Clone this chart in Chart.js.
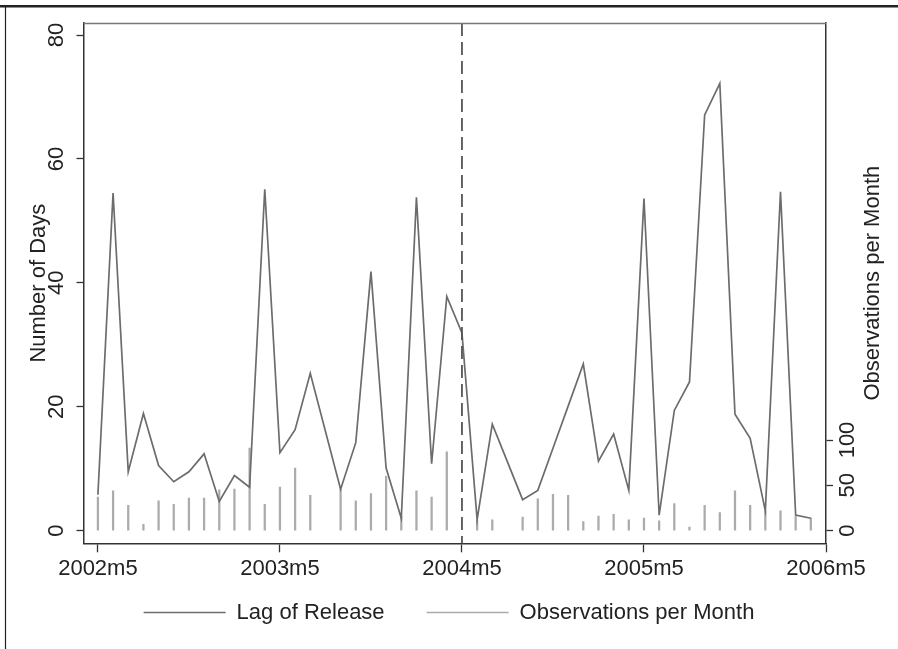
<!DOCTYPE html>
<html><head><meta charset="utf-8">
<script src="https://cdn.jsdelivr.net/npm/chart.js@4.4.1/dist/chart.umd.min.js"></script>
<style>html,body{margin:0;padding:0;background:#fff;} #wrap{width:898px;height:649px;position:relative;}</style>
</head><body><div id="wrap"><canvas id="c" width="898" height="649"></canvas></div>
<script>
const months = ['2002m5','2002m6','2002m7','2002m8','2002m9','2002m10','2002m11','2002m12',
  '2003m1','2003m2','2003m3','2003m4','2003m5','2003m6','2003m7','2003m8','2003m9','2003m10','2003m11','2003m12',
  '2004m1','2004m2','2004m3','2004m4','2004m5','2004m6','2004m7','2004m8','2004m9','2004m10','2004m11','2004m12',
  '2005m1','2005m2','2005m3','2005m4','2005m5','2005m6','2005m7','2005m8','2005m9','2005m10','2005m11','2005m12',
  '2006m1','2006m2','2006m3','2006m4'];
const lagOfRelease = [5.8,54.5,9.5,18.9,10.5,7.9,9.5,12.4,4.7,8.9,7.0,55.1,
  12.6,16.3,25.4,null,6.7,14.2,41.8,10.1,2.0,53.8,10.8,37.8,
  31.9,1.8,17.2,null,5.0,6.5,13.3,20.1,26.9,11.2,15.6,6.5,
  53.6,2.5,19.4,24.0,67.1,72.2,18.8,14.9,3.2,54.7,2.5,2.0];
const obsPerMonth = [37,44,28,7,33,29,36,36,45,46,91,29,
  48,69,39,null,46,33,41,60,16,44,37,87,
  null,12,12,null,15,35,40,39,10,16,18,12,
  14,11,30,4,28,20,44,28,22,22,16,14];
const xTickIndex = [0,12,24,36,48];
const xTickLabels = ['2002m5','2003m5','2004m5','2005m5','2006m5'];
const leftTicks = [0,20,40,60,80];
const rightTicks = [0,50,100];
const breakIndex = 24; // dashed reference line at 2004m5
const seriesNames = ['Lag of Release','Observations per Month'];
const axisTitles = ['Number of Days','Observations per Month'];

const FONT = '"Liberation Sans", Arial, Helvetica, sans-serif';
const FS = 22;
Chart.defaults.font.family = FONT;
Chart.defaults.font.size = FS;
Chart.defaults.color = '#222';

const lineColor = '#6c6c6c';
const spikeColor = '#ababab';

const lagPoints = lagOfRelease.map((v,i)=>({x:i, y:v}));
const obsPoints = obsPerMonth.map((v,i)=>({x:i, y:v}));

const decor = {
  id:'decor',
  beforeDraw(chart){
    const c = chart.ctx;
    c.save();
    c.fillStyle = '#fff';
    c.fillRect(0,0,chart.width,chart.height);
    c.strokeStyle = '#222';
    c.lineWidth = 2.4;
    c.beginPath(); c.moveTo(0,6.2); c.lineTo(chart.width,6.2); c.stroke();
    c.lineWidth = 1.2;
    c.beginPath(); c.moveTo(5.5,6); c.lineTo(5.5,chart.height); c.stroke();
    c.restore();
  },
  afterDatasetsDraw(chart){
    const c = chart.ctx, a = chart.chartArea;
    const x = chart.scales.x.getPixelForValue(breakIndex);
    c.save();
    c.strokeStyle = '#555';
    c.lineWidth = 1.8;
    c.setLineDash([13,6]);
    c.beginPath(); c.moveTo(x,a.top); c.lineTo(x,a.bottom); c.stroke();
    c.restore();
  },
  afterDraw(chart){
    const c = chart.ctx, a = chart.chartArea;
    c.save();
    // top border of plot region
    c.strokeStyle = '#777';
    c.lineWidth = 1.3;
    c.beginPath(); c.moveTo(a.left, a.top+0.5); c.lineTo(a.right, a.top+0.5); c.stroke();
    c.fillStyle = '#222';
    c.font = FS + 'px ' + FONT;
    // x tick labels
    c.textAlign = 'center';
    c.textBaseline = 'alphabetic';
    const xs = chart.scales.x;
    xTickIndex.forEach((v,k)=>{ c.fillText(xTickLabels[k], xs.getPixelForValue(v), a.bottom + 31.5); });
    // rotated y tick labels
    const yl = chart.scales.y, yr = chart.scales.y2;
    leftTicks.forEach(v=>{
      c.save(); c.translate(a.left-20.5, yl.getPixelForValue(v)); c.rotate(-Math.PI/2);
      c.fillText(String(v),0,0); c.restore();
    });
    rightTicks.forEach(v=>{
      c.save(); c.translate(a.right+28, yr.getPixelForValue(v)); c.rotate(-Math.PI/2);
      c.fillText(String(v),0,0); c.restore();
    });
    const midY = (a.top+a.bottom)/2;
    c.save(); c.translate(a.left-39, midY); c.rotate(-Math.PI/2); c.fillText(axisTitles[0],0,0); c.restore();
    c.save(); c.translate(a.right+52.5, midY); c.rotate(-Math.PI/2); c.fillText(axisTitles[1],0,0); c.restore();
    c.restore();
  }
};

new Chart(document.getElementById('c'), {
  data:{
    datasets:[
      {type:'line', label:seriesNames[0], data:lagPoints, yAxisID:'y', order:0,
       borderColor:lineColor, backgroundColor:lineColor, borderWidth:1.7, pointRadius:0,
       pointHoverRadius:0, tension:0, spanGaps:true, fill:false},
      {type:'bar', label:seriesNames[1], data:obsPoints, yAxisID:'y2', order:1,
       backgroundColor:spikeColor, borderWidth:0, barThickness:1.6}
    ]
  },
  options:{
    responsive:false, animation:false,
    layout:{padding:{left:0,right:0,top:23,bottom:15.5}},
    plugins:{
      tooltip:{enabled:false},
      legend:{
        position:'bottom',
        labels:{
          usePointStyle:true, pointStyle:'line', pointStyleWidth:82, padding:42,
          font:{size:FS, family:FONT}, color:'#222',
          generateLabels(chart){
            const items = Chart.defaults.plugins.legend.labels.generateLabels(chart);
            return items.map((it)=>{
              const col = it.datasetIndex===0 ? lineColor : spikeColor;
              return Object.assign(it,{pointStyle:'line', strokeStyle:col, fillStyle:col, lineWidth:1.7});
            });
          }
        }
      }
    },
    scales:{
      x:{type:'linear', position:'bottom', min:-0.95, max:48, offset:false,
        afterBuildTicks(s){ s.ticks = xTickIndex.map(v=>({value:v})); },
        afterFit(s){ s.height = 16.2; },
        ticks:{display:false},
        grid:{drawOnChartArea:false, drawTicks:true, tickLength:9, tickColor:'#333', tickWidth:1.3, offset:false},
        border:{display:true, color:'#333', width:1.5}
      },
      y:{type:'linear', position:'left', min:-2.04, max:81.94,
        afterBuildTicks(s){ s.ticks = leftTicks.map(v=>({value:v})); },
        afterFit(s){ s.width = 83.5; },
        ticks:{display:false},
        grid:{drawOnChartArea:false, drawTicks:true, tickLength:7, tickColor:'#333', tickWidth:1.3},
        border:{display:true, color:'#333', width:1.5}
      },
      y2:{type:'linear', position:'right', min:-13.9, max:559.8,
        afterBuildTicks(s){ s.ticks = rightTicks.map(v=>({value:v})); },
        afterFit(s){ s.width = 72; },
        ticks:{display:false},
        grid:{drawOnChartArea:false, drawTicks:true, tickLength:7, tickColor:'#333', tickWidth:1.3},
        border:{display:true, color:'#333', width:1.5}
      }
    }
  },
  plugins:[decor]
});
</script></body></html>
